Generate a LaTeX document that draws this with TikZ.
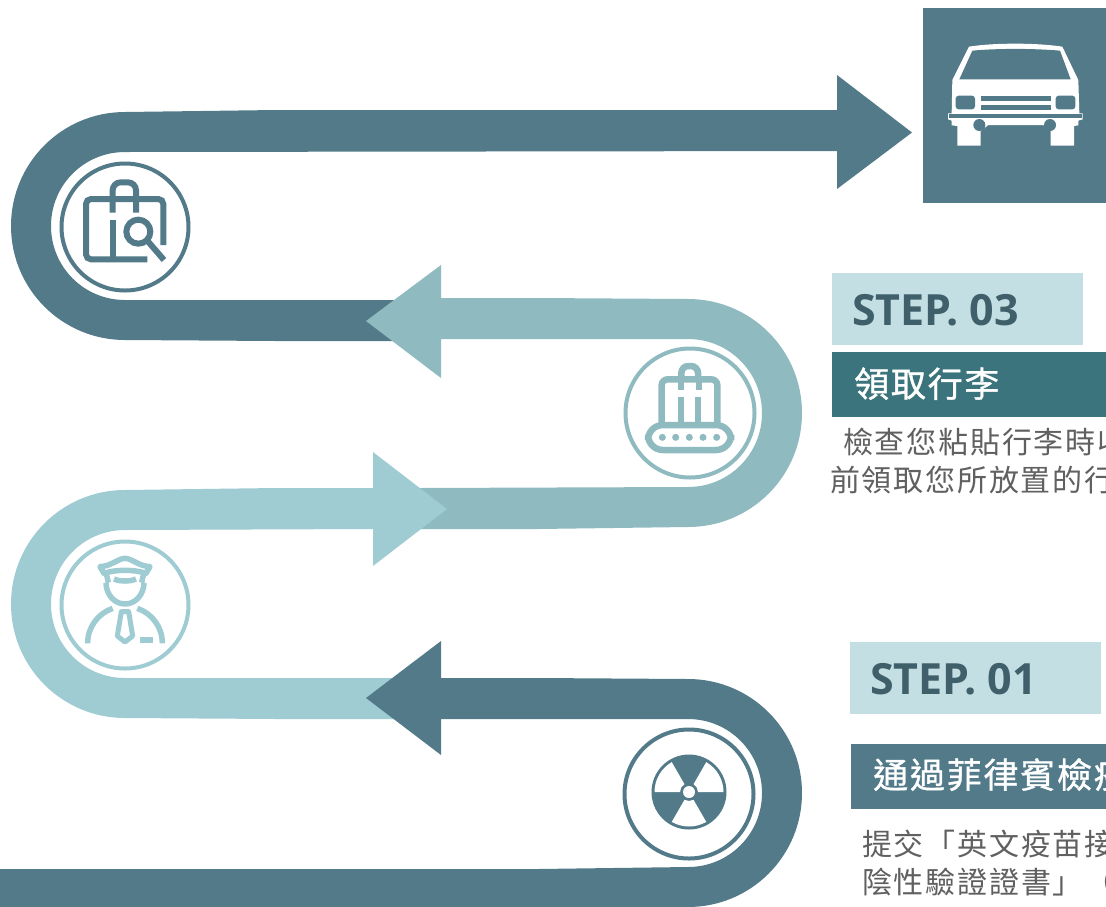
\documentclass[tikz,border=0pt]{standalone}
\usepackage{fontspec}
\setmainfont{Open Sans}
\newfontfamily\cjkbody[LetterSpace=6]{Noto Sans CJK TC}
\newfontfamily\cjktitle[LetterSpace=5,FakeBold=1]{Noto Sans CJK TC}
\definecolor{rdark}{HTML}{527A89}
\definecolor{rmid}{HTML}{8FBAC0}
\definecolor{rlight}{HTML}{9FCCD3}
\definecolor{stepbg}{HTML}{C4DFE4}
\definecolor{stepfg}{HTML}{3F5F6B}
\definecolor{bartl}{HTML}{3B747C}
\definecolor{bodyfg}{HTML}{606060}
\tikzset{
  steplabel/.style={anchor=base west,inner sep=0pt,text=stepfg,font=\fontsize{43}{43}\selectfont\bfseries},
  titlelabel/.style={anchor=base west,inner sep=0pt,text=white,font=\fontsize{35}{35}\selectfont\cjktitle},
  bodylabel/.style={anchor=base west,inner sep=0pt,text=bodyfg,font=\fontsize{30}{30}\selectfont\cjkbody},
  ringline/.style={line width=4pt},
  iconscope/.style={x=0.33333pt,y=-0.33333pt}
}
\begin{document}
\begin{tikzpicture}[x=1pt,y=-1pt]
\useasboundingbox (0,0) rectangle (1106,906);
\clip (0,0) rectangle (1106,906);
\fill[white] (0,0) rectangle (1106,906);
% ribbon 1
\fill[rdark] (837,110)--(276,110)--(125,112) .. controls (62,112) and (11,163) .. (11,226) .. controls (11,289) and (62,340) .. (125,340)--(276,341)--(420,341)--(420,300)--(125,300) .. controls (84,300) and (51,267) .. (51,226) .. controls (51,185) and (84,152) .. (125,152)--(837,151)--cycle;
\fill[rdark] (837,75)--(912,132.5)--(837,189)--cycle;
% ribbon 2
\fill[rmid] (441,298)--(538,298)--(688,299) .. controls (751,299) and (802,350) .. (802,413) .. controls (802,476) and (751,527) .. (688,527)--(538,529)--(420,529)--(420,488)--(688,487) .. controls (729,487) and (762,454) .. (762,413) .. controls (762,372) and (729,339) .. (688,339)--(441,339)--cycle;
\fill[rmid] (441,265)--(366,321)--(441,378)--cycle;
% ribbon 3
\fill[rlight] (373,488)--(276,488)--(125,490) .. controls (62,490) and (11,541) .. (11,604) .. controls (11,667) and (62,718) .. (125,718)--(276,719)--(420,719)--(420,678)--(125,678) .. controls (84,678) and (51,645) .. (51,604) .. controls (51,563) and (84,530) .. (125,530)--(373,529)--cycle;
\fill[rlight] (373,452)--(447,509)--(373,566)--cycle;
% ribbon 4
\fill[rdark] (441,678)--(538,678)--(688,679) .. controls (751,679) and (802,730) .. (802,793) .. controls (802,856) and (751,907) .. (688,907)--(538,909)--(0,909)--(0,869)--(538,869)--(688,867) .. controls (729,867) and (762,834) .. (762,793) .. controls (762,752) and (729,719) .. (688,719)--(441,719)--cycle;
\fill[rdark] (441,641)--(366,698)--(441,755)--cycle;
% rings
\draw[ringline,rdark] (125,227) circle[radius=63.5pt];
\draw[ringline,rmid] (690,413) circle[radius=64.5pt];
\draw[ringline,rlight] (125,605) circle[radius=63.5pt];
\draw[ringline,rdark] (689,794) circle[radius=64.5pt];
% icon 1: luggage with magnifier
\begin{scope}[shift={(40,150)},iconscope,rdark,line width=6pt]
  \draw[rounded corners=5pt] (370,285)--(370,147)--(138,147)--(138,328)--(322,328);
  \draw[line cap=butt,rounded corners=8pt] (218,188)--(218,97)--(288,97)--(288,188);
  \draw (218,210)--(218,328);
  \fill[white] (295,245) circle[radius=17pt];
  \draw (295,245) circle[radius=12pt];
  \draw (322,272)--(372,330);
\end{scope}
% icon 2: luggage on belt
\begin{scope}[shift={(610,335)},iconscope,rmid,line width=6.5pt]
  \draw[rounded corners=6pt] (155,262)--(155,133)--(322,133)--(322,262);
  \draw[rounded corners=7pt] (214,133)--(214,93)--(264,93)--(264,133);
  \draw[line width=6pt] (212,133)--(212,165);
  \draw[line width=6pt] (268,133)--(268,165);
  \draw[line width=6pt] (213,262)--(213,187);
  \draw[line width=6pt] (265,262)--(265,187);
  \draw[fill=white,line width=6.5pt,rounded corners=15pt] (114,270) rectangle (363,345);
  \foreach \dotx in {157,197,238,279,320}{\fill (\dotx,307) circle[radius=3.5pt];}
\end{scope}
% icon 3: officer
\begin{scope}[shift={(40,530)},iconscope,rlight,line width=5.5pt,line join=round]
  \draw (180,110) .. controls (215,108) and (235,85) .. (255,85) .. controls (275,85) and (295,108) .. (330,110) -- (318,130) .. controls (285,118) and (225,118) .. (192,130) -- cycle;
  \draw (200,135)--(205,158);
  \draw (310,135)--(305,158);
  \draw (222,147) .. controls (240,155) and (270,155) .. (288,147);
  \draw (198,158) .. controls (198,195) and (225,222) .. (255,222) .. controls (285,222) and (312,195) .. (312,158);
  \draw (143,340) .. controls (143,290) and (175,250) .. (218,235);
  \draw (367,340) .. controls (367,290) and (335,250) .. (292,235);
  \draw[line width=5pt] (244,245)--(232,318)--(255,336)--(278,318)--(266,245)--cycle;
  \fill (300,322) rectangle (338,340);
\end{scope}
% icon 4: radiation
\fill[rdark] (689,792) circle[radius=37.5pt];
\begin{scope}[shift={(689,792)},x=1pt,y=1pt]
  \foreach \wedgea in {0,120,240}{
    \fill[white] (\wedgea:9pt) -- (\wedgea:34.5pt) arc[start angle=\wedgea,end angle=\wedgea+60,radius=34.5pt] -- (\wedgea+60:9pt) arc[start angle=\wedgea+60,end angle=\wedgea,radius=9pt] -- cycle;
  }
\end{scope}
\fill[white] (689,792) circle[radius=6pt];
% car
\fill[rdark] (923,8) rectangle (1106,203);
\begin{scope}[shift={(820,0)},iconscope]
  \fill[white] (447,140) .. controls (520,128) and (650,128) .. (727,140) -- (775,240) -- (778,340) -- (788,340) -- (788,358) -- (775,362) -- (775,376) -- (762,378) -- (762,437) -- (692,437) -- (692,393) -- (670,375) -- (505,375) -- (482,393) -- (482,437) -- (412,437) -- (412,378) -- (395,376) -- (395,362) -- (384,358) -- (384,340) -- (395,340) -- (397,240) -- cycle;
  \fill[rdark] (457,152) .. controls (530,145) and (640,145) .. (720,152) -- (752,238) -- (418,238) -- cycle;
  \fill[rdark,rounded corners=3pt] (407,287) rectangle (465,328);
  \fill[rdark,rounded corners=3pt] (707,287) rectangle (766,328);
  \fill[rdark] (482,289) rectangle (692,302);
  \fill[rdark] (482,316) rectangle (692,329);
  \fill[rdark] (388,343) rectangle (785,355);
  \fill[rdark] (478,375) circle[radius=6pt];
  \fill[rdark] (690,375) circle[radius=6pt];
\end{scope}
% step 03 panel
\fill[stepbg] (832,273) rectangle (1083,345);
\node[steplabel] (stepthree) at (852,325) {STEP. 03};
\fill[bartl] (832,352) rectangle (1106,417);
\node[titlelabel] (titlethree) at (854,397) {領取行李};
\node[bodylabel] (bodythreea) at (843,453) {檢查您粘貼行李時收};
\node[bodylabel] (bodythreeb) at (830,491) {前領取您所放置的行};
% step 01 panel
\fill[stepbg] (850,642) rectangle (1101,714);
\node[steplabel] (stepone) at (870,694) {STEP. 01};
\fill[rdark] (851,744) rectangle (1106,809);
\node[titlelabel] (titleone) at (873,788) {通過菲律賓檢疫};
\node[bodylabel] (bodyonea) at (862,855) {提交「英文疫苗接種};
\node[bodylabel] (bodyoneb) at (862,893) {陰性驗證證書」（};
\end{tikzpicture}
\end{document}
